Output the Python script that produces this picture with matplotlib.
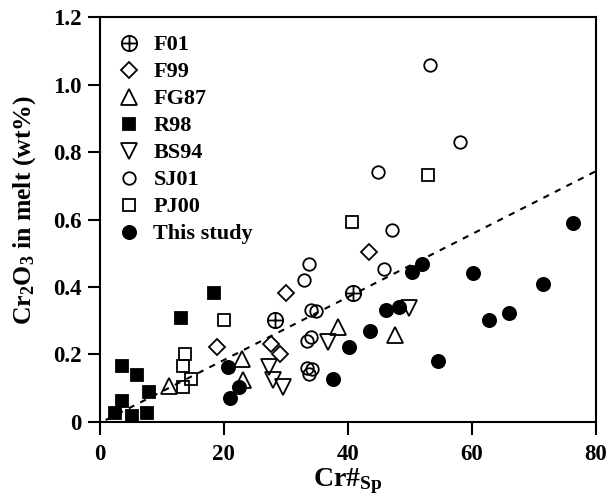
import matplotlib
matplotlib.use("Agg")
import matplotlib.pyplot as plt
import numpy as np
from matplotlib.path import Path

plt.rcParams['font.family'] = 'Liberation Serif'
plt.rcParams['font.weight'] = 'bold'
plt.rcParams['mathtext.fontset'] = 'custom'
plt.rcParams['mathtext.rm'] = 'Liberation Serif:bold'
plt.rcParams['mathtext.it'] = 'Liberation Serif:bold'
plt.rcParams['mathtext.bf'] = 'Liberation Serif:bold'

# data: Cr# of spinel vs Cr2O3 in melt (wt%)
f01_x = [28.3, 40.8]
f01_y = [0.301, 0.383]

f99_x = [18.9, 27.7, 29.0, 30.1, 43.4]
f99_y = [0.222, 0.230, 0.200, 0.382, 0.504]

fg87_x = [11.2, 22.9, 23.1, 38.5, 47.6]
fg87_y = [0.106, 0.186, 0.124, 0.281, 0.257]

r98_x = [18.5, 13.2, 3.7, 6.1, 8.0, 3.7, 2.5, 5.3, 7.7]
r98_y = [0.383, 0.308, 0.165, 0.140, 0.089, 0.062, 0.025, 0.018, 0.027]

bs94_x = [27.3, 27.9, 29.5, 36.8, 49.8]
bs94_y = [0.163, 0.124, 0.104, 0.237, 0.338]

sj01_x = [33.8, 32.9, 34.1, 34.9, 33.5, 34.1, 33.5, 34.2, 33.7, 45.9, 47.2, 44.8, 53.3, 58.0]
sj01_y = [0.469, 0.422, 0.331, 0.329, 0.240, 0.252, 0.160, 0.155, 0.143, 0.452, 0.570, 0.740, 1.059, 0.830]

pj00_x = [20.0, 13.8, 13.4, 14.8, 13.5, 40.6, 52.9]
pj00_y = [0.303, 0.201, 0.165, 0.127, 0.102, 0.593, 0.733]

study_x = [20.7, 22.5, 21.1, 37.6, 40.2, 43.6, 46.2, 48.3, 50.4, 52.0, 54.5, 60.1, 62.8, 66.0, 71.5, 76.2]
study_y = [0.161, 0.102, 0.069, 0.128, 0.222, 0.270, 0.331, 0.341, 0.443, 0.469, 0.181, 0.442, 0.303, 0.323, 0.410, 0.590]

# regression line end points
fit_x = [1.0, 80.0]
fit_y = [0.005, 0.744]

# crossed circle marker (circle with a plus inside)
circ = Path.unit_circle()
cross = Path([(-1, 0), (1, 0), (0, -1), (0, 1)],
             [Path.MOVETO, Path.LINETO, Path.MOVETO, Path.LINETO])
oplus = Path.make_compound_path(circ, cross)

fig = plt.figure(figsize=(6.12, 5.04), dpi=100)
ax = fig.add_axes([0.1626, 0.1633, 0.8114, 0.802])

ax.plot(fit_x, fit_y, color='black', lw=1.5, dashes=(3, 3.2), zorder=1)

mew = 1.3
ax.plot(f01_x, f01_y, ls='none', marker=oplus, ms=11, mfc='none', mec='black', mew=mew, label='F01')
ax.plot(f99_x, f99_y, ls='none', marker='D', ms=8.5, mfc='none', mec='black', mew=mew, label='F99')
ax.plot(fg87_x, fg87_y, ls='none', marker='^', ms=11, mfc='none', mec='black', mew=mew, label='FG87')
ax.plot(r98_x, r98_y, ls='none', marker='s', ms=9, mfc='black', mec='black', mew=mew, label='R98')
ax.plot(bs94_x, bs94_y, ls='none', marker='v', ms=11, mfc='none', mec='black', mew=mew, label='BS94')
ax.plot(sj01_x, sj01_y, ls='none', marker='o', ms=9, mfc='none', mec='black', mew=mew, label='SJ01')
ax.plot(pj00_x, pj00_y, ls='none', marker='s', ms=9, mfc='none', mec='black', mew=mew, label='PJ00')
ax.plot(study_x, study_y, ls='none', marker='o', ms=9.5, mfc='black', mec='black', mew=mew, label='This study')

ax.set_xlim(0, 80)
ax.set_ylim(0, 1.2)
ax.set_xticks([0, 20, 40, 60, 80])
ax.set_yticks([0, 0.2, 0.4, 0.6, 0.8, 1.0, 1.2])
ax.set_yticklabels(['0', '0.2', '0.4', '0.6', '0.8', '1.0', '1.2'])
ax.tick_params(direction='out', length=9, width=1.5, labelsize=16.5)
ax.tick_params(axis='x', pad=7)
ax.tick_params(axis='y', pad=4)
for s in ax.spines.values():
    s.set_linewidth(1.5)

ax.set_xlabel(r'Cr#$_{\mathrm{Sp}}$', fontsize=20, fontweight='bold', labelpad=1)
ax.set_ylabel(r'Cr$_2$O$_3$ in melt (wt%)', fontsize=18.5, fontweight='bold')
ax.yaxis.set_label_coords(-0.124, 0.524)

ax.legend(loc='upper left', bbox_to_anchor=(0.01, 0.99), frameon=False,
          prop={'size': 16, 'weight': 'bold'}, handlelength=1.0,
          handletextpad=0.6, labelspacing=0.29, borderaxespad=0.2)

fig.savefig('out.png', dpi=100)
